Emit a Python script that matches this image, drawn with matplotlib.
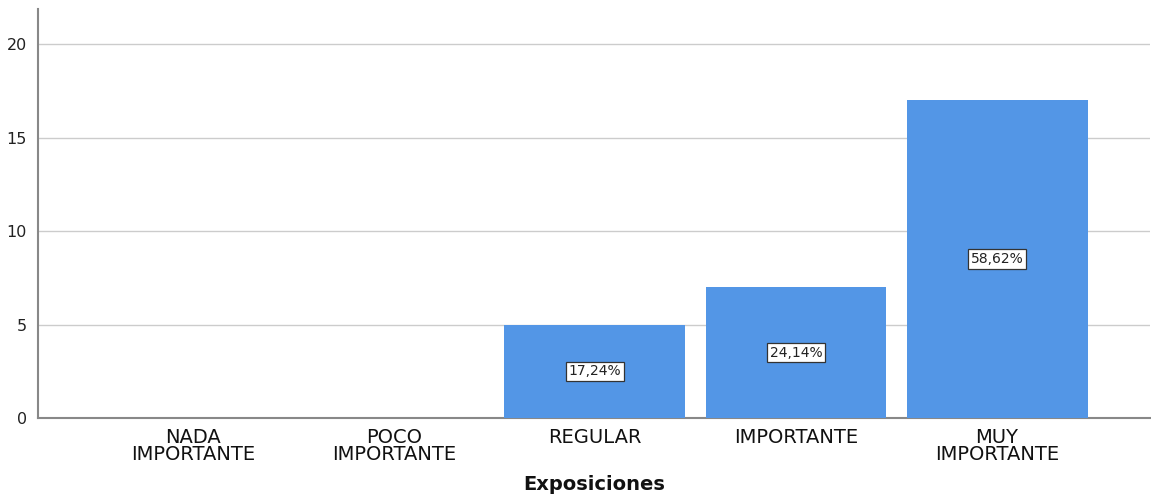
import matplotlib.pyplot as plt

categories = ['NADA\nIMPORTANTE', 'POCO\nIMPORTANTE', 'REGULAR', 'IMPORTANTE', 'MUY\nIMPORTANTE']
counts = [0, 0, 5, 7, 17]
pct_labels = ['', '', '17,24%', '24,14%', '58,62%']

fig = plt.figure(figsize=(11.51, 4.98), dpi=100)
ax = fig.add_axes([0.033, 0.1606, 0.966, 0.8214])

x = range(len(categories))
ax.bar(x, counts, width=0.9, color='#5396e6', zorder=3)

for xi, c, lab in zip(x, counts, pct_labels):
    if lab:
        ax.text(xi, c / 2, lab, ha='center', va='center', fontsize=10, zorder=4,
                color='#222222',
                bbox=dict(boxstyle='square,pad=0.2', facecolor='white',
                          edgecolor='#333333', linewidth=0.9))

ax.set_xlim(-0.77, 4.76)
ax.set_ylim(0, 21.9)
ax.set_yticks([0, 5, 10, 15, 20])
ax.set_xticks(list(x))
ax.set_xticklabels(categories, fontsize=14, linespacing=0.88, color='#111111')
ax.tick_params(axis='both', length=0)
ax.tick_params(axis='y', labelsize=11.5, pad=8, colors='#222222')
ax.tick_params(axis='x', pad=7)
ax.yaxis.grid(True, color='#cccccc', linewidth=1, zorder=0)

for s in ['top', 'right']:
    ax.spines[s].set_visible(False)
for s in ['left', 'bottom']:
    ax.spines[s].set_color('#888888')
    ax.spines[s].set_linewidth(1.5)

ax.set_xlabel('Exposiciones', fontsize=14, fontweight='bold', labelpad=8,
              color='#111111')

fig.savefig('out.png', dpi=100)
